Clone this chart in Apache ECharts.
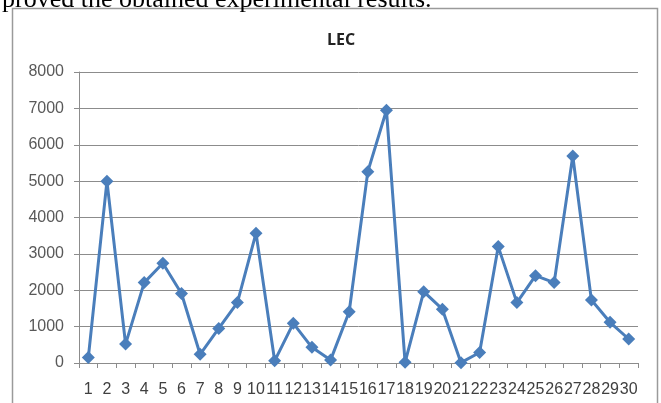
<!DOCTYPE html>
<html>
<head>
<meta charset="utf-8">
<script src="https://cdn.jsdelivr.net/npm/echarts@6/dist/echarts.min.js"></script>
<style>
html, body {
  margin: 0;
  padding: 0;
  background: #fff;
  overflow: hidden;
}
#caption {
  position: absolute;
  left: 2px;
  top: -14px;
  font-family: "Liberation Serif", "DejaVu Serif", serif;
  font-size: 26px;
  line-height: 25px;
  color: #000;
  white-space: nowrap;
}
#main {
  position: absolute;
  left: 0;
  top: 0;
  width: 661px;
  height: 403px;
}
</style>
</head>
<body>
<div id="main"></div>
<div id="caption">proved the obtained experimental results.</div>
<script>
// chart data
var categories = ['1','2','3','4','5','6','7','8','9','10','11','12','13','14','15',
  '16','17','18','19','20','21','22','23','24','25','26','27','28','29','30'];
var lecValues = [150, 5000, 520, 2210, 2740, 1910, 240, 950, 1660, 3570,
  60, 1090, 430, 80, 1410, 5260, 6950, 20, 1960, 1480,
  10, 290, 3200, 1660, 2400, 2210, 5690, 1730, 1120, 660];
var yTicks = [0, 1000, 2000, 3000, 4000, 5000, 6000, 7000, 8000];

var chartDom = document.getElementById('main');
var myChart = echarts.init(chartDom);
var option;

option = {
  animation: false,
  backgroundColor: '#fff',
  title: {
    text: 'LEC',
    left: 336,
    top: 27,
    textAlign: 'center',
    textStyle: {
      fontFamily: 'Open Sans',
      fontWeight: 'bold',
      fontSize: 16,
      color: '#222'
    }
  },
  graphic: [
    {
      type: 'rect',
      shape: { x: 12.5, y: 8.5, width: 645, height: 420 },
      style: { fill: 'none', stroke: '#9a9a9a', lineWidth: 1.5 },
      silent: true
    }
  ],
  grid: {
    left: 79,
    right: 23,
    top: 72,
    bottom: 40
  },
  xAxis: {
    type: 'category',
    data: categories,
    boundaryGap: true,
    axisLine: { lineStyle: { color: '#8c8c8c', width: 1 } },
    axisTick: { show: true, length: 5, lineStyle: { color: '#8c8c8c' } },
    axisLabel: {
      interval: 0,
      margin: 19,
      fontFamily: 'Liberation Sans',
      fontSize: 16,
      color: '#404040'
    },
    splitLine: { show: false }
  },
  yAxis: {
    type: 'value',
    min: yTicks[0],
    max: yTicks[yTicks.length - 1],
    interval: 1000,
    axisLine: { show: true, lineStyle: { color: '#8c8c8c', width: 1 } },
    axisTick: { show: true, length: 5, lineStyle: { color: '#8c8c8c' } },
    axisLabel: {
      margin: 15,
      fontFamily: 'Liberation Sans',
      fontSize: 16,
      color: '#595959',
      formatter: function (v) { return String(v); }
    },
    splitLine: { show: true, lineStyle: { color: '#8c8c8c', width: 1 } }
  },
  series: [
    {
      name: 'LEC',
      type: 'line',
      data: lecValues,
      symbol: 'diamond',
      symbolSize: 13,
      lineStyle: { color: '#4a7ebb', width: 3 },
      itemStyle: { color: '#4a7ebb' }
    }
  ]
};

option && myChart.setOption(option);
</script>
</body>
</html>
